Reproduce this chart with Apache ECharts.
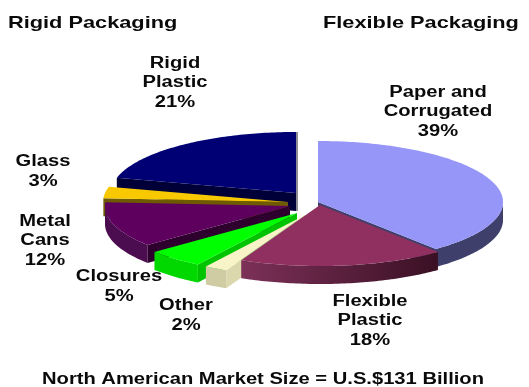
<!DOCTYPE html>
<html>
<head>
<meta charset="utf-8">
<style>html,body{margin:0;padding:0;background:#fff}#chart{width:529px;height:387px}</style>
<script src="https://cdn.jsdelivr.net/npm/echarts@6/dist/echarts.min.js"></script>
</head>
<body>
<div id="chart"></div>
<script>
// Market share by packaging type, clockwise from twelve o'clock.
const categories = ['Paper and\nCorrugated', 'Flexible\nPlastic', 'Other', 'Closures', 'Metal\nCans', 'Glass', 'Rigid\nPlastic'];
const shares = [39, 18, 2, 5, 12, 3, 21];
const groupTitles = ['Rigid Packaging', 'Flexible Packaging'];
const footer = 'North American Market Size = U.S.$131 Billion';

// Tilted-disc geometry.
const PIE = { cx: 307, cy: 205, rx: 185, ry: 61, depth: 18 };

// Per-slice look: explode offset from the disc centre, paint order, fills.
const sliceStyles = [
  { dx: 11, dy: -3, order: 6, top: '#9696f8', wall: '#3f3f6c', cut: '#3f3f6c' },
  { dx: 13, dy: 0, order: 7, top: '#8f3060', wall: ['#7c3058', '#3a1024'], cut: '#45142c' },
  { dx: -2, dy: 10, order: 5, top: '#f8f4c8', wall: '#cfcba2', cut: '#dcd8ae' },
  { dx: -10, dy: 8, order: 4, top: '#00ff00', wall: '#00d800', cut: '#00c400' },
  { dx: -17, dy: 1, order: 3, top: '#5e005e', wall: '#4c0c50', cut: '#2e002e' },
  { dx: -19, dy: -3, order: 2, top: '#f8c800', wall: '#8a7a30', cut: '#6e5a00' },
  { dx: -11, dy: -12, order: 1, top: '#000074', wall: '#000038', cut: '#000038', edge: '#8c8c94' }
];

// Label anchors: centre of the block, line pitch.
const labelAnchors = [[438, 112], [370, 321], [186, 315.5], [119, 286.5], [45, 241], [43, 171.5], [175, 83]];
const LINE = 19.5;

const total = shares.reduce((a, b) => a + b, 0);
const K = PIE.ry / PIE.rx;

function rimPoint(c, deg) {
  const a = deg * Math.PI / 180;
  return [c[0] + PIE.rx * Math.sin(a), c[1] - PIE.ry * Math.cos(a)];
}

// A radial face shows when the slice's interior lies above it on screen.
function radialVisible(deg, interiorSign) {
  const a = deg * Math.PI / 180;
  const d = [Math.sin(a), -K * Math.cos(a)];
  const t = [interiorSign * Math.cos(a), interiorSign * K * Math.sin(a)];
  if (Math.abs(d[0]) < 1e-6) return false;
  return t[1] - (t[0] / d[0]) * d[1] < 0;
}

function poly(points, fill, z2) {
  return { type: 'polygon', z2, shape: { points }, style: { fill, stroke: null } };
}

function renderSlice(params, api) {
  const i = params.dataIndex;
  const s = sliceStyles[i];
  let before = 0;
  for (let k = 0; k < i; k++) before += shares[k];
  const start = before / total * 360;
  const end = (before + api.value(0)) / total * 360;
  const c = [PIE.cx + s.dx, PIE.cy + s.dy];
  const base = s.order * 10;
  const children = [];

  // Radial cut faces.
  [[start, 1], [end, -1]].forEach(([deg, sign]) => {
    if (radialVisible(deg, sign)) {
      const p = rimPoint(c, deg);
      children.push(poly([c, p, [p[0], p[1] + PIE.depth], [c[0], c[1] + PIE.depth]], s.cut, base));
    }
  });

  // Outer rim wall on the half of the disc that faces the viewer.
  const from = Math.max(start, 90), to = Math.min(end, 270);
  if (to > from) {
    const upper = [], lower = [];
    for (let d = from; d <= to; d += 1) upper.push(rimPoint(c, d));
    upper.push(rimPoint(c, to));
    upper.forEach(p => lower.unshift([p[0], p[1] + PIE.depth]));
    const fill = Array.isArray(s.wall)
      ? new echarts.graphic.LinearGradient(0, 0, 1, 0, [
          { offset: 0, color: s.wall[0] }, { offset: 1, color: s.wall[1] }])
      : s.wall;
    children.push(poly(upper.concat(lower), fill, base + 1));
  }

  // Top face.
  const face = [c];
  for (let d = start; d < end; d += 1) face.push(rimPoint(c, d));
  face.push(rimPoint(c, end));
  children.push(poly(face, s.top, base + 2));

  // Thin lit edge where the slice ends at twelve o'clock.
  if (s.edge) {
    const p = rimPoint(c, end);
    children.push({
      type: 'rect', z2: base + 3,
      shape: { x: p[0], y: p[1], width: 2, height: c[1] + PIE.depth - p[1] },
      style: { fill: s.edge }
    });
  }
  return { type: 'group', children };
}

function textEl(text, x, y, size, scaleX, align) {
  return {
    type: 'text', x, y, scaleX, silent: true,
    style: {
      text, fill: '#0a0a0a', textAlign: align || 'center', textVerticalAlign: 'middle',
      font: 'bold ' + size + 'px "Liberation Sans", Arial, sans-serif'
    }
  };
}

const textEls = [
  textEl(groupTitles[0], 8, 23, 17, 1.28, 'left'),
  textEl(groupTitles[1], 323, 23, 17, 1.28, 'left'),
  textEl(footer, 263, 380, 16, 1.26)
];
categories.forEach((name, i) => {
  const lines = name.split('\n').concat(shares[i] + '%');
  const [x, y] = labelAnchors[i];
  lines.forEach((line, n) => {
    textEls.push(textEl(line, x, y + (n - (lines.length - 1) / 2) * LINE, 16, 1.26));
  });
});

const chart = echarts.init(document.getElementById('chart'), null, { renderer: 'canvas' });
chart.setOption({
  animation: false,
  backgroundColor: '#ffffff',
  graphic: { elements: textEls },
  series: [{
    type: 'custom',
    coordinateSystem: 'none',
    silent: true,
    data: shares.map((v, i) => ({ name: categories[i], value: [v] })),
    renderItem: renderSlice
  }]
});
</script>
</body>
</html>
